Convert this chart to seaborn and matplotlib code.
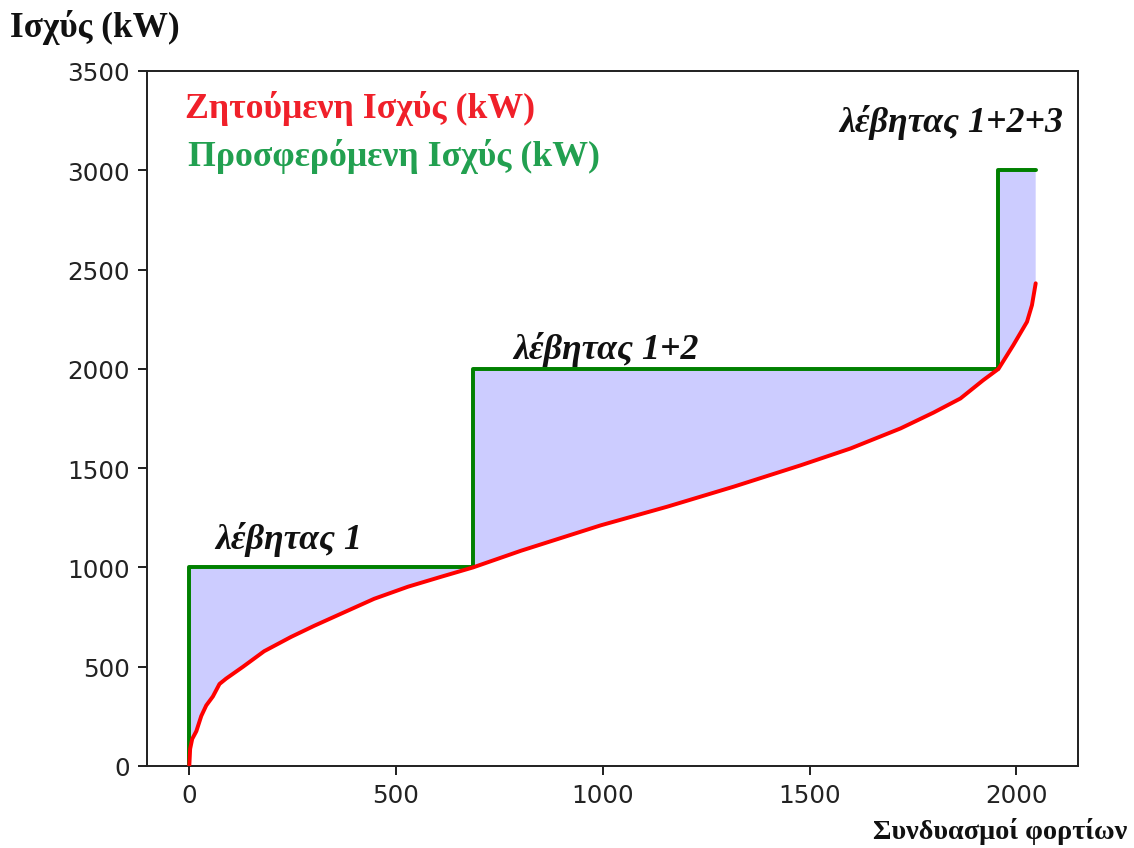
import numpy as np
import matplotlib
matplotlib.use("Agg")
import matplotlib.pyplot as plt
import seaborn as sns

# Sorted demanded power over all load combinations (index, kW)
demand_idx = [0, 2, 7, 17, 29, 41, 57, 73, 89, 130, 181, 246, 302, 367, 447,
              529, 609, 686, 802, 995, 1156, 1317, 1478, 1599, 1720, 1800,
              1865, 1920, 1957, 1993, 2026, 2038, 2047]
demand_kw = [0, 86, 136, 175, 252, 305, 350, 413, 440, 500, 578, 650, 706, 767,
             842, 903, 953, 1000, 1084, 1212, 1306, 1407, 1514, 1599, 1700,
             1780, 1851, 1943, 2000, 2120, 2237, 2321, 2431]

# Boiler stages: offered capacity and the combination index where each starts
stage_capacity = [1000, 2000, 3000]
stage_start = [0, 686, 1957]
last_idx = 2047

stage_labels = ["λέβητας 1", "λέβητας 1+2", "λέβητας 1+2+3"]
stage_label_x = [241, 1007, 1843]
stage_label_y = [1143, 2100, 3248]

yticks = [0, 500, 1000, 1500, 2000, 2500, 3000, 3500]

sns.set_style("ticks")
plt.rcParams["axes.edgecolor"] = "#222222"
plt.rcParams["xtick.color"] = "#222222"
plt.rcParams["ytick.color"] = "#222222"
plt.rcParams["text.color"] = "#222222"

fig = plt.figure(figsize=(6.4, 4.787), dpi=177.34)
ax = fig.add_axes([0.1295, 0.0966, 0.8203, 0.8186])

# Offered power as a staircase
supply_x = [stage_start[0]]
supply_y = [0]
for s, c in zip(stage_start, stage_capacity):
    supply_x += [s, s]
    supply_y += [supply_y[-1], c]
supply_x = supply_x[1:] + [last_idx]
supply_y = supply_y[1:] + [stage_capacity[-1]]

# Reserve area between offered and demanded power
poly_x = list(supply_x) + demand_idx[::-1]
poly_y = list(supply_y) + demand_kw[::-1]
ax.fill(poly_x, poly_y, color="blue", alpha=0.2, lw=0, zorder=1)

sns.lineplot(x=supply_x, y=supply_y, estimator=None, sort=False,
             color="green", lw=1.6, ax=ax, zorder=3)
sns.lineplot(x=demand_idx, y=demand_kw, estimator=None, sort=False,
             color="red", lw=1.6, ax=ax, zorder=4)

ax.set_ylim(0, 3500)
ax.set_yticks(yticks)
ax.set_xticks([0, 500, 1000, 1500, 2000])
ax.tick_params(labelsize=10)
ax.set_xlabel("")
ax.set_ylabel("")

serif = ["Liberation Serif", "DejaVu Serif"]
for lab, lx, ly in zip(stage_labels, stage_label_x, stage_label_y):
    ax.text(lx, ly, lab, ha="center", va="center", family=serif,
            fontweight="bold", fontstyle="italic", fontsize=14.6, color="#111111")

ax.text(0.041, 0.948, "Ζητούμενη Ισχύς (kW)", transform=ax.transAxes,
        ha="left", va="center", family=serif, fontweight="bold",
        fontsize=14.5, color="#f0202a")
ax.text(0.044, 0.878, "Προσφερόμενη Ισχύς (kW)", transform=ax.transAxes,
        ha="left", va="center", family=serif, fontweight="bold",
        fontsize=14.5, color="#22a050")

fig.text(10 / 1135, 1 - 28 / 849, "Ισχύς (kW)", ha="left", va="center",
         family=serif, fontweight="bold", fontsize=14.3, color="#111111")
fig.text(1127 / 1135, 1 - 832 / 849, "Συνδυασμοί φορτίων", ha="right",
         va="center", family=serif, fontweight="bold", fontsize=11.5,
         color="#111111")

fig.savefig("out.png", dpi=177.34, facecolor="white")
